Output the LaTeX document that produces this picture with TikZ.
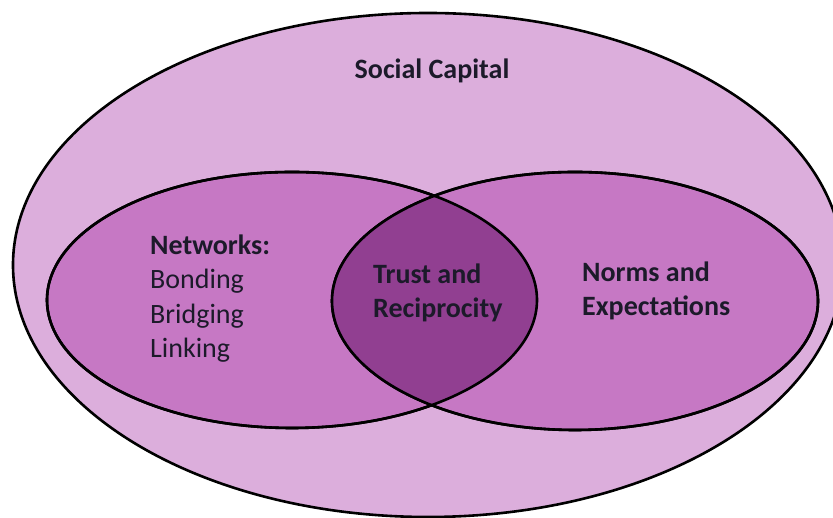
\documentclass[tikz,border=0pt]{standalone}
\usepackage{fontspec}
\setmainfont{Carlito}
\usetikzlibrary{shapes.geometric}
\definecolor{outerfill}{HTML}{DCAEDC}
\definecolor{midfill}{HTML}{C678C4}
\definecolor{darkfill}{HTML}{913F91}
\definecolor{inkc}{HTML}{1C1A2A}
\tikzset{
  ring/.style={ellipse, inner sep=0pt, line width=2.6pt, draw=black},
  outline/.style={line width=2.6pt, draw=black},
  lbl/.style={inner sep=0pt, text=inkc, align=left, font=\fontsize{28}{34.5}\selectfont},
  blbl/.style={lbl, font=\fontsize{28}{34}\selectfont\bfseries}
}
\begin{document}
\begin{tikzpicture}[x=1pt,y=1pt]
\useasboundingbox (0,0) rectangle (833,518);
\fill[white] (0,0) rectangle (833,518);
\begin{scope}
\clip (0,0) rectangle (833,518);
\node[ring, fill=outerfill, minimum width=830pt, minimum height=504pt] (sc) at (428,253) {};
\end{scope}
\node[ring, fill=midfill, minimum width=490pt, minimum height=256pt] (net) at (292,218) {};
\node[ring, fill=midfill, minimum width=486pt, minimum height=258pt] (nrm) at (575,217) {};
\begin{scope}
\clip (net.center) ellipse [x radius=245pt, y radius=128pt];
\fill[darkfill] (nrm.center) ellipse [x radius=243pt, y radius=129pt];
\end{scope}
\draw[outline] (net.center) ellipse [x radius=245pt, y radius=128pt];
\draw[outline] (nrm.center) ellipse [x radius=243pt, y radius=129pt];
\node[blbl, anchor=base] (sct) at (432,439) {Social Capital};
\node[lbl, anchor=base west] (nett) at (150,160) {\textbf{Networks:}\\Bonding\\Bridging\\Linking};
\node[blbl, anchor=base west] (trt) at (373,200) {Trust and\\Reciprocity};
\node[blbl, anchor=base west] (nrt) at (582,202) {Norms and\\Expectations};
\end{tikzpicture}
\end{document}
